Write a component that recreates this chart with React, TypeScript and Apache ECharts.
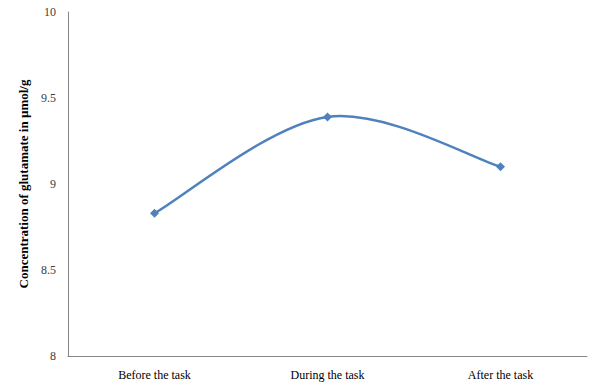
import React, { useEffect, useRef } from "react";
import * as echarts from "echarts";

const categories = ["Before the task", "During the task", "After the task"];
const glutamate = [8.83, 9.39, 9.1];
const yTicks = { min: 8, max: 10, interval: 0.5 };
const yAxisTitle = "Concentration of glutamate in µmol/g";

export default function App() {
  const ref = useRef<HTMLDivElement>(null);
  useEffect(() => {
    if (!ref.current) return;
    const chart = echarts.init(ref.current, null, { renderer: "svg" });
    const font = "'Liberation Serif', 'DejaVu Serif', serif";
    const n = glutamate.length;
    const clamp = (k: number) => Math.max(0, Math.min(n - 1, k));
    chart.setOption({
      animation: false,
      backgroundColor: "#ffffff",
      grid: { left: 68, right: 5, top: 12, bottom: 33, containLabel: false },
      xAxis: {
        type: "category",
        data: categories,
        boundaryGap: true,
        axisLine: { lineStyle: { color: "#868686", width: 1 } },
        axisTick: { show: false },
        axisLabel: { color: "#000000", fontFamily: font, fontSize: 12, margin: 13 },
        splitLine: { show: false },
      },
      yAxis: {
        type: "value",
        min: yTicks.min,
        max: yTicks.max,
        interval: yTicks.interval,
        axisLine: { show: true, lineStyle: { color: "#868686", width: 1 } },
        axisTick: { show: false },
        splitLine: { show: false },
        axisLabel: {
          color: "#404040",
          fontFamily: font,
          fontSize: 12,
          margin: 12,
          formatter: (v: number) => String(v),
        },
        name: yAxisTitle,
        nameLocation: "middle",
        nameRotate: 90,
        nameGap: 38,
        nameTextStyle: { color: "#000000", fontFamily: font, fontSize: 13, fontWeight: "bold" },
      },
      series: [
        {
          type: "custom",
          z: 2,
          data: glutamate.map((v, i) => [i, v]),
          renderItem: (params: any, api: any) => {
            const i = params.dataIndex;
            if (i >= n - 1) return { type: "group", children: [] };
            const pt = (k: number) => api.coord([clamp(k), glutamate[clamp(k)]]);
            const p0 = pt(i - 1);
            const p1 = pt(i);
            const p2 = pt(i + 1);
            const p3 = pt(i + 2);
            const c1 = [p1[0] + (p2[0] - p0[0]) / 6, p1[1] + (p2[1] - p0[1]) / 6];
            const c2 = [p2[0] - (p3[0] - p1[0]) / 6, p2[1] - (p3[1] - p1[1]) / 6];
            return {
              type: "bezierCurve",
              shape: {
                x1: p1[0], y1: p1[1],
                cpx1: c1[0], cpy1: c1[1],
                cpx2: c2[0], cpy2: c2[1],
                x2: p2[0], y2: p2[1],
              },
              style: { stroke: "#4F81BD", lineWidth: 2.5, fill: null, lineCap: "round" },
            };
          },
        },
        {
          type: "line",
          z: 3,
          data: glutamate,
          symbol: "diamond",
          symbolSize: 9,
          lineStyle: { width: 0, opacity: 0 },
          itemStyle: { color: "#4F81BD" },
        },
      ],
    });
    return () => chart.dispose();
  }, []);
  return <div ref={ref} style={{ width: 592, height: 389, position: "absolute", left: 0, top: 0 }} />;
}
